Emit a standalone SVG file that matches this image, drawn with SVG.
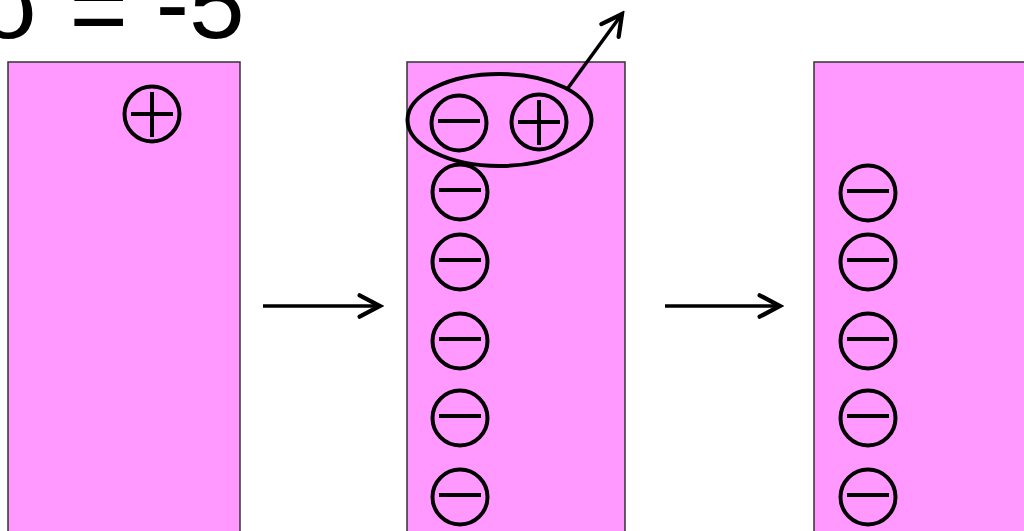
<svg xmlns="http://www.w3.org/2000/svg" width="1024" height="531" viewBox="0 0 1024 531">
<defs>
<style>
.panel{fill:#FF99FF;stroke:#333;stroke-width:1.5}
.conn{stroke:#000;stroke-width:3.5;fill:none}
.title{font-family:"Liberation Sans",Arial,sans-serif;font-size:100px;fill:#000}
</style>
<marker id="chev" markerUnits="userSpaceOnUse" markerWidth="30" markerHeight="30" viewBox="-24 -14 28 28" refX="0" refY="0" orient="auto">
<path d="M-19,-10 L0,0 L-19,10" fill="none" stroke="#000" stroke-width="4" stroke-linecap="round"/>
</marker>
<g id="minus" fill="none" stroke="#000" stroke-width="4"><circle cx="0" cy="0" r="27.5"/><line x1="-21" y1="-2" x2="21" y2="-2"/></g>
<g id="plus" fill="none" stroke="#000" stroke-width="4"><circle cx="0" cy="0" r="27.5"/><line x1="-21" y1="0" x2="21" y2="0"/><line x1="0" y1="-22" x2="0" y2="23"/></g>
</defs>
<rect width="1024" height="531" fill="#fff"/>
<text class="title" x="-20" y="38">σ <tspan dy="5">=</tspan><tspan dy="-5"> -5</tspan></text>
<g id="panel1">
<rect class="panel" x="8" y="62" width="232" height="480"/>
<use href="#plus" x="152" y="114"/>
</g>
<g id="panel2">
<rect class="panel" x="407" y="62" width="218" height="480"/>
<use href="#minus" x="459" y="123"/>
<use href="#plus" x="539" y="122"/>
<use href="#minus" x="460" y="192"/>
<use href="#minus" x="460" y="262"/>
<use href="#minus" x="460" y="341"/>
<use href="#minus" x="460" y="418"/>
<use href="#minus" x="460" y="497"/>
<ellipse cx="499.5" cy="120" rx="92" ry="46" fill="none" stroke="#000" stroke-width="4"/>
</g>
<g id="panel3">
<rect class="panel" x="814" y="62" width="220" height="480"/>
<use href="#minus" x="868" y="193"/>
<use href="#minus" x="868" y="262"/>
<use href="#minus" x="868" y="341"/>
<use href="#minus" x="868" y="418"/>
<use href="#minus" x="868" y="497"/>
</g>
<g id="connectors">
<line class="conn" x1="263" y1="306" x2="380" y2="306" marker-end="url(#chev)"/>
<line class="conn" x1="665" y1="306" x2="780" y2="306" marker-end="url(#chev)"/>
<line class="conn" x1="568" y1="88" x2="622" y2="14" marker-end="url(#chev)"/>
</g>
</svg>
